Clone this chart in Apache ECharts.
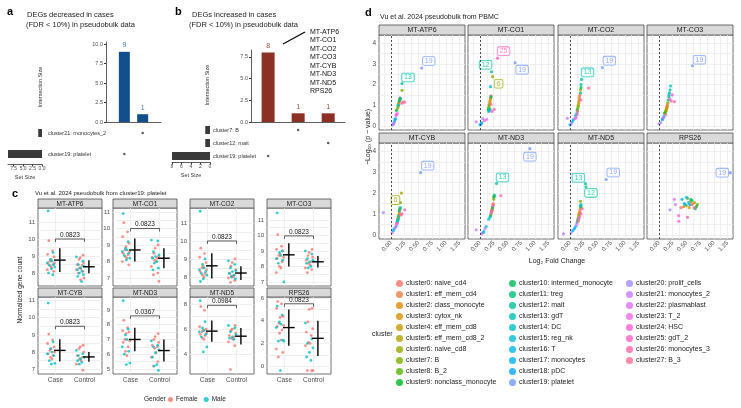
<!DOCTYPE html>
<html>
<head>
<meta charset="utf-8">
<script src="https://cdn.jsdelivr.net/npm/echarts@6/dist/echarts.min.js"></script>
<style>
  html, body { margin: 0; padding: 0; background: #fff; }
  #main { width: 741px; height: 408px; }
</style>
</head>
<body>
<div id="main"></div>
<script>
  // ---------- data: panels a / b (upset) ----------
  const decSets = ['cluster21: monocytes_2', 'cluster19: platelet']
  const decSetSize = [1, 9]
  const decInter = [9, 1]
  const decMembers = [[2], [1]] // intersection ids for each set row
  const incSets = ['cluster7: B', 'cluster12: mait', 'cluster19: platelet']
  const incSetSize = [1, 1, 8]
  const incInter = [8, 1, 1]
  const incMembers = [[2], [3], [1]]
  const incGenes = ['MT-ATP6', 'MT-CO1', 'MT-CO2', 'MT-CO3', 'MT-CYB', 'MT-ND3', 'MT-ND5', 'RPS26']

  // ---------- data: panel c ----------
  const cGenes = ['MT-ATP6', 'MT-CO1', 'MT-CO2', 'MT-CO3', 'MT-CYB', 'MT-ND3', 'MT-ND5', 'RPS26']
  const caseFemale = [
    [9.9, 9.3, 9.1, 8.95, 8.8, 8.7, 8.6, 8.55, 8.5, 8.4, 8.3, 8.2, 8.1],
    [10.35, 9.8, 9.5, 9.1, 8.9, 8.7, 8.6, 8.5, 8.4, 8.3, 8.2, 8.0, 7.8],
    [9.6, 9.3, 9.1, 8.8, 8.6, 8.5, 8.4, 8.3, 8.2, 8.1, 8.0],
    [10.05, 9.3, 9.1, 9.0, 8.8, 8.7, 8.6, 8.5, 8.3, 8.0, 7.9, 7.6],
    [9.05, 8.7, 8.5, 8.3, 8.2, 8.1, 8.0, 7.9, 7.8, 7.7, 7.6],
    [8.3, 7.8, 7.6, 7.5, 7.4, 7.0, 6.9, 6.8, 6.5, 6.2, 5.9],
    [7.8, 7.5, 6.2, 6.0, 5.9, 5.8, 5.7, 5.6, 5.5, 5.3, 5.2],
    [5.7, 5.5, 5.1, 4.4, 4.3, 3.8, 3.6, 3.5, 3.2, 2.9, 2.3, 1.5, 1.2, 0.8],
  ]
  const caseMale = [
    [11.65, 9.2, 8.8, 8.7, 8.6, 8.5, 8.45, 8.35, 8.25, 8.0, 7.9],
    [10.9, 9.2, 8.8, 8.7, 8.6, 8.5, 8.35, 8.2, 8.1],
    [11.65, 9.0, 8.7, 8.5, 8.4, 8.3, 8.2, 8.1, 7.9, 7.75],
    [11.45, 9.0, 8.9, 8.7, 8.5, 8.4, 8.2, 7.0],
    [10.85, 8.6, 8.2, 8.0, 7.9, 7.8, 7.5, 7.35, 7.3],
    [9.63, 7.7, 7.3, 7.0, 6.5, 6.2, 6.0, 5.4, 5.3],
    [8.27, 6.6, 6.1, 5.9, 5.8, 5.6, 5.4, 4.6, 4.2],
    [5.3, 4.5, 3.9, 3.7, 3.4, 2.3, 2.2, 2.2, -0.4],
  ]
  const ctrlFemale = [
    [9.05, 8.9, 8.8, 8.6, 8.5, 8.45, 8.3, 8.25, 8.2, 8.1, 8.0, 7.7, 7.6],
    [9.0, 8.8, 8.5, 8.3, 8.25, 8.2, 8.1, 8.0, 7.7, 7.3, 7.2, 6.8],
    [9.0, 8.8, 8.6, 8.4, 8.2, 8.1, 8.05, 8.0, 7.95, 7.8, 7.7],
    [9.1, 8.9, 8.7, 8.6, 8.4, 8.3, 8.2, 8.1, 7.9, 7.8, 7.6],
    [8.4, 8.3, 8.2, 8.0, 7.8, 7.7, 7.6, 7.5, 7.3, 6.95],
    [7.4, 7.2, 7.0, 6.8, 6.6, 6.5, 6.4, 6.1, 5.8, 5.5, 5.2],
    [6.3, 6.0, 5.9, 5.7, 5.5, 5.4, 5.3, 5.2, 5.0, 4.7, 2.8],
    [5.1, 5.0, 3.9, 3.3, 3.0, 2.7, 2.1, 2.0, 1.8, -0.4, -0.4, -0.4],
  ]
  const ctrlMale = [
    [8.95, 8.7, 8.5, 8.4, 8.3, 8.2, 8.1, 8.0, 7.9, 7.8, 7.5],
    [9.3, 9.25, 8.6, 8.4, 8.3, 8.2, 8.0, 7.9, 7.6, 7.5],
    [8.9, 8.7, 8.5, 8.35, 8.3, 8.2, 8.1, 8.0, 7.9],
    [9.0, 8.8, 8.5, 8.4, 8.3, 8.2, 8.0, 7.9],
    [8.1, 7.9, 7.8, 7.7, 7.6, 7.5, 7.4, 7.3],
    [6.9, 6.6, 6.5, 6.3, 6.1, 5.8, 5.3, 5.2, 4.9],
    [6.3, 6.1, 5.8, 5.6, 5.4, 5.3, 5.2],
    [3.8, 2.4, 2.0, 1.6, 1.2, 0.8, 0.5],
  ]
  const caseMean = [8.76, 8.7, 8.62, 8.75, 8.1, 7.0, 5.85, 3.4]
  const caseSd = [0.7, 0.7, 0.7, 0.75, 0.65, 0.8, 0.85, 1.6]
  const ctrlMean = [8.37, 8.2, 8.22, 8.3, 7.72, 6.25, 5.45, 2.45]
  const ctrlSd = [0.38, 0.6, 0.38, 0.37, 0.28, 0.75, 0.65, 1.55]
  const pLabels = ['0.0823', '0.0823', '0.0823', '0.0823', '0.0823', '0.0367', '0.0984', '0.0823']
  const pBracketY = [10.0, 10.0, 10.0, 9.97, 9.5, 8.6, 7.9, 5.5]
  const cYMin = [7.24, 6.52, 7.5, 6.74, 6.73, 4.66, 2.45, -0.7]
  const cYMax = [11.82, 11.24, 11.83, 11.77, 11.2, 9.88, 8.56, 6.1]
  const cYTicks = [
    [8, 9, 10, 11], [7, 8, 9, 10, 11], [8, 9, 10, 11], [7, 8, 9, 10, 11],
    [7, 8, 9, 10, 11], [5, 6, 7, 8, 9], [4, 6, 8], [0, 2, 4, 6],
  ]

  // ---------- data: panel d ----------
  const clusterNames = ['cluster0: naive_cd4', 'cluster1: eff_mem_cd4', 'cluster2: class_monocyte', 'cluster3: cytox_nk',
    'cluster4: eff_mem_cd8', 'cluster5: eff_mem_cd8_2', 'cluster6: naive_cd8', 'cluster7: B', 'cluster8: B_2',
    'cluster9: nonclass_monocyte', 'cluster10: intermed_monocyte', 'cluster11: treg', 'cluster12: mait', 'cluster13: gdT',
    'cluster14: DC', 'cluster15: reg_nk', 'cluster16: T', 'cluster17: monocytes', 'cluster18: pDC', 'cluster19: platelet',
    'cluster20: prolif_cells', 'cluster21: monocytes_2', 'cluster22: plasmablast', 'cluster23: T_2', 'cluster24: HSC',
    'cluster25: gdT_2', 'cluster26: monocytes_3', 'cluster27: B_3']
  const dGenes = ['MT-ATP6', 'MT-CO1', 'MT-CO2', 'MT-CO3', 'MT-CYB', 'MT-ND3', 'MT-ND5', 'RPS26']
  // [log2 fold change, -log10 p] for cluster0..cluster27
  const dPoints = [
    [[0.16,1.35],[0.17,1.3],[0.15,1.2],[0.14,1.1],[0.14,1.05],[0.12,0.85],[0.16,1.3],[0.2,1.72],[0.13,0.95],[0.1,0.75],[0.15,1.2],[0.16,1.25],[0.17,1.35],[0.2,2.05],[0.13,1.0],[0.08,0.35],[0.06,0.2],[0.04,0.08],[0.07,0.3],[0.56,2.8],[0.03,0.05],[0.05,0.12],[0.09,0.5],[0.11,0.6],[0.1,0.55],[0.2,1.1],[0.25,1.15],[0.22,1.15]],
    [[0.2,1.45],[0.19,1.35],[0.19,1.3],[0.18,1.2],[0.18,1.15],[0.17,1.05],[0.23,2.38],[0.17,1.0],[0.16,0.9],[0.15,0.8],[0.2,1.4],[0.17,0.75],[0.21,2.62],[0.18,0.8],[0.16,0.7],[0.19,1.9],[0.03,0.15],[0.0,0.05],[0.02,0.1],[0.64,3.06],[0.05,0.35],[-0.07,0.2],[0.12,0.32],[0.08,0.25],[0.22,0.7],[0.32,3.28],[0.26,0.8],[0.2,1.05]],
    [[0.18,1.5],[0.17,1.4],[0.17,1.3],[0.16,1.2],[0.16,1.1],[0.15,1.0],[0.19,1.75],[0.15,0.95],[0.14,0.85],[0.13,0.75],[0.2,1.85],[0.19,1.6],[0.2,2.0],[0.21,2.25],[0.12,0.6],[0.1,0.5],[0.06,0.3],[0.0,0.05],[0.04,0.2],[0.59,2.82],[0.02,0.1],[-0.05,0.37],[0.09,0.35],[0.11,0.4],[0.13,0.55],[0.2,1.25],[0.34,1.83],[0.14,0.7]],
    [[0.15,1.0],[0.15,0.95],[0.14,0.9],[0.14,0.85],[0.13,0.8],[0.13,0.75],[0.16,1.1],[0.12,0.7],[0.11,0.65],[0.1,0.6],[0.17,1.25],[0.18,1.4],[0.19,1.6],[0.2,1.75],[0.21,1.93],[0.18,1.5],[0.09,0.45],[0.07,0.37],[0.06,0.3],[0.61,2.91],[0.03,0.15],[0.0,0.1],[0.08,0.4],[0.2,1.3],[0.24,1.5],[0.22,1.2],[0.28,1.17],[0.12,0.55]],
    [[0.16,1.2],[0.15,1.1],[0.15,1.0],[0.14,0.95],[0.13,0.85],[0.13,0.8],[0.19,2.0],[0.17,1.54],[0.12,0.7],[0.11,0.6],[0.16,1.25],[0.15,1.15],[0.17,1.3],[0.14,0.9],[0.13,0.75],[0.12,0.65],[0.09,0.4],[0.06,0.3],[0.04,0.2],[0.54,2.98],[-0.14,1.07],[0.02,0.1],[0.08,0.35],[0.11,0.55],[0.1,0.5],[0.2,1.0],[0.25,1.2],[0.18,0.95]],
    [[0.24,1.5],[0.24,1.45],[0.23,1.35],[0.22,1.25],[0.22,1.2],[0.21,1.1],[0.25,1.7],[0.26,1.85],[0.2,1.0],[0.19,0.9],[0.25,1.8],[0.23,1.3],[0.26,1.9],[0.3,2.46],[0.18,0.85],[0.16,0.75],[0.11,0.4],[0.07,0.15],[0.05,0.1],[0.91,4.13],[0.09,0.3],[-0.07,0.24],[0.03,0.05],[0.2,1.05],[0.24,1.4],[0.22,1.15],[0.38,1.88],[0.21,1.15]],
    [[0.18,1.2],[0.18,1.1],[0.17,1.05],[0.17,1.0],[0.16,0.95],[0.16,0.9],[0.19,1.3],[0.19,1.61],[0.15,0.8],[0.14,0.7],[0.2,1.35],[0.2,1.45],[0.29,2.3],[0.28,2.45],[0.19,1.4],[0.13,0.6],[0.1,0.4],[0.05,0.2],[0.08,0.3],[0.66,2.65],[0.02,0.1],[-0.12,0.05],[0.12,0.5],[0.16,0.75],[0.2,1.0],[0.17,0.85],[0.22,1.25],[0.15,0.65]],
    [[0.62,1.5],[0.6,1.45],[0.58,1.6],[0.45,1.35],[0.55,1.3],[0.65,1.55],[0.5,1.4],[0.52,1.75],[0.7,1.45],[0.68,1.35],[0.66,1.25],[0.6,1.65],[0.58,1.7],[0.54,1.55],[0.48,1.45],[0.5,1.8],[0.42,1.7],[0.46,1.5],[0.56,1.45],[1.3,2.98],[0.2,1.2],[0.3,1.45],[0.28,1.7],[0.36,0.92],[0.36,0.65],[0.52,0.84],[0.64,1.3],[0.4,1.3]],
  ]
  const dLabelled = [[19, 13], [25, 12, 6, 19], [19, 13], [19], [19, 6], [19, 13], [19, 13, 12], [19]]

  // ---------- layout (pixels) ----------
  const FONT = '"Liberation Sans", Arial, sans-serif'
  const GRID_LINE = '#ebebeb'
  const BORDER = '#4d4d4d'
  const AXIS_TXT = '#4d4d4d'
  const jitter = [-0.08, 0.05, -0.12, 0.1, 0.0, -0.04, 0.12, -0.1, 0.07, -0.02, 0.03, -0.13, 0.09, -0.06, 0.13, 0.01, -0.09, 0.06, -0.03, 0.11]
  // label offsets [dx, dy] for the boxed cluster ids in panel d
  const dLabelOffset = {
    '0-19': [7, -7], '0-13': [6, -6],
    '1-25': [6, -7], '1-12': [-6, -7], '1-6': [6, 7], '1-19': [7, 7],
    '2-19': [7, -7], '2-13': [6, -7],
    '3-19': [7, -6],
    '4-19': [7, -7], '4-6': [-6, 7],
    '5-19': [0, 8], '5-13': [6, -6],
    '6-19': [7, -7], '6-13': [-7, -6], '6-12': [5, 6],
    '7-19': [-8, 0],
  }

  // ggplot hue palette
  function hcl2hex(h, c, l) {
    const hr = (h * Math.PI) / 180
    const U = c * Math.cos(hr), V = c * Math.sin(hr)
    const Xn = 95.047, Yn = 100, Zn = 108.883
    const un = (4 * Xn) / (Xn + 15 * Yn + 3 * Zn), vn = (9 * Yn) / (Xn + 15 * Yn + 3 * Zn)
    const Y = l > 8 ? Yn * Math.pow((l + 16) / 116, 3) : (Yn * l) / 903.3
    const u = U / (13 * l) + un, v = V / (13 * l) + vn
    const X = (Y * 9 * u) / (4 * v)
    const Z = (Y * (12 - 3 * u - 20 * v)) / (4 * v)
    const x = X / 100, y = Y / 100, z = Z / 100
    const lin = [
      3.2404542 * x - 1.5371385 * y - 0.4985314 * z,
      -0.969266 * x + 1.8760108 * y + 0.041556 * z,
      0.0556434 * x - 0.2040259 * y + 1.0572252 * z,
    ]
    return '#' + lin.map((t) => {
      let g = t <= 0.0031308 ? 12.92 * t : 1.055 * Math.pow(t, 1 / 2.4) - 0.055
      g = Math.round(Math.max(0, Math.min(1, g)) * 255)
      return g.toString(16).padStart(2, '0')
    }).join('')
  }
  const clusterColors = clusterNames.map((_, i) => hcl2hex(15 + (i * 360) / 28, 100, 65))
  const FEMALE = '#F8766D', MALE = '#00BFC4'

  const grids = [], xAxes = [], yAxes = [], series = [], graphics = []
  function addGrid(g, xa, ya) {
    grids.push(g)
    const gi = grids.length - 1
    xa.gridIndex = gi
    ya.gridIndex = gi
    xAxes.push(xa)
    yAxes.push(ya)
    return gi
  }
  function txt(x, y, s, o) {
    const st = Object.assign({ text: s, fill: '#1a1a1a', font: '7px ' + FONT, align: 'left', verticalAlign: 'middle' }, o || {})
    st.textAlign = st.align
    st.textVerticalAlign = st.verticalAlign
    graphics.push({ type: 'text', x: x, y: y, rotation: st.rot || 0, silent: true, style: st })
  }
  function strip(x, y, w, h, label, fs) {
    graphics.push({ type: 'rect', silent: true, shape: { x: x, y: y, width: w, height: h }, style: { fill: '#d9d9d9', stroke: BORDER, lineWidth: 0.8 } })
    txt(x + w / 2, y + h / 2 + 0.5, label, { font: fs + 'px ' + FONT, align: 'center', fill: '#1a1a1a' })
  }
  const hidden = { show: false }

  // ---------- upset plot builder ----------
  function upset(o) {
    // bars
    const gBar = addGrid(
      { left: o.barLeft, top: o.barTop, width: o.barWidth, height: o.barHeight },
      { type: 'value', min: o.xMin, max: o.xMax, axisLine: { show: true, lineStyle: { color: '#333', width: 0.8 } }, axisTick: hidden, axisLabel: hidden, splitLine: hidden },
      {
        type: 'value', min: 0, max: o.yMax,
        axisLine: { show: true, lineStyle: { color: '#333', width: 0.8 } },
        axisTick: { show: true, length: 2, customValues: o.yTicks, lineStyle: { color: '#333' } },
        axisLabel: { customValues: o.yTicks, fontSize: 5.5, color: AXIS_TXT, fontFamily: FONT, margin: 3, formatter: (v) => v.toFixed(1) },
        splitLine: hidden,
      }
    )
    series.push({
      type: 'bar', xAxisIndex: gBar, yAxisIndex: gBar, barWidth: o.bw,
      itemStyle: { color: o.color },
      label: { show: true, position: 'top', distance: 3, fontSize: 7, color: o.labelColor, fontFamily: FONT },
      data: o.inter.map((v, i) => [i + 1, v]),
    })
    // matrix
    const gMat = addGrid(
      { left: o.barLeft, top: o.matTop, width: o.barWidth, height: o.matHeight },
      { type: 'value', min: o.xMin, max: o.xMax, axisLine: hidden, axisTick: hidden, axisLabel: hidden, splitLine: hidden },
      {
        type: 'category', inverse: true, data: o.sets, axisLine: hidden, axisTick: hidden, splitLine: hidden,
        axisLabel: { align: 'left', margin: o.labelMargin, fontSize: 5.5, color: '#333', fontFamily: FONT },
      }
    )
    const dots = []
    o.members.forEach((ids, r) => ids.forEach((id) => dots.push([id, r])))
    series.push({ type: 'scatter', xAxisIndex: gMat, yAxisIndex: gMat, symbolSize: 2.5, itemStyle: { color: '#333' }, data: dots })
    // set sizes
    const gSet = addGrid(
      { left: o.setLeft, top: o.matTop, width: o.setWidth, height: o.matHeight },
      {
        type: 'value', inverse: true, min: 0, max: o.setMax,
        axisLine: { show: true, lineStyle: { color: '#333', width: 0.8 } },
        axisTick: { show: true, length: 2, customValues: o.setTicks, lineStyle: { color: '#333' } },
        axisLabel: { customValues: o.setTicks, fontSize: 5, color: AXIS_TXT, fontFamily: FONT, margin: 2, formatter: o.setFmt },
        splitLine: hidden,
        name: 'Set Size', nameLocation: 'middle', nameGap: 10, nameTextStyle: { fontSize: 5.5, color: '#333', fontFamily: FONT },
      },
      { type: 'category', inverse: true, data: o.sets, axisLine: hidden, axisTick: hidden, axisLabel: hidden, splitLine: hidden }
    )
    series.push({ type: 'bar', xAxisIndex: gSet, yAxisIndex: gSet, barWidth: 8, itemStyle: { color: '#3a3a3a' }, data: o.setSize })
    txt(o.isLabelX, o.isLabelY, 'Intersection Size', { font: '5.5px ' + FONT, align: 'center', fill: '#333', rot: Math.PI / 2 })
  }

  upset({
    barLeft: 106, barTop: 42, barWidth: 55, barHeight: 80, xMin: 0, xMax: 3, yMax: 10.26,
    yTicks: [0, 2.5, 5, 7.5, 10], bw: 11, color: '#134f8c', labelColor: '#3f72b5', inter: decInter,
    matTop: 122.5, matHeight: 42, sets: decSets, members: decMembers, labelMargin: 58,
    setLeft: 8, setWidth: 34, setMax: 9, setTicks: [0, 2.5, 5, 7.5], setFmt: (v) => v.toFixed(1), setSize: decSetSize,
    isLabelX: 40, isLabelY: 87,
  })
  upset({
    barLeft: 251, barTop: 50, barWidth: 94, barHeight: 72, xMin: 0.43, xMax: 3.56, yMax: 8.3,
    yTicks: [0, 2.5, 5, 7.5], bw: 13, color: '#8c2f24', labelColor: '#a24a3a', inter: incInter,
    matTop: 123.5, matHeight: 39, sets: incSets, members: incMembers, labelMargin: 38,
    setLeft: 172, setWidth: 38, setMax: 8, setTicks: [0, 2, 4, 6, 8], setFmt: (v) => String(v), setSize: incSetSize,
    isLabelX: 207, isLabelY: 85,
  })

  // panel a / b headings
  txt(7, 12, 'a', { font: 'bold 11px ' + FONT, fill: '#000' })
  txt(27, 15, 'DEGs decreased in cases', { font: '7.5px ' + FONT })
  txt(26, 25, '(FDR < 10%) in pseudobulk data', { font: '7.5px ' + FONT })
  txt(175, 12, 'b', { font: 'bold 11px ' + FONT, fill: '#000' })
  txt(192, 15, 'DEGs increased in cases', { font: '7.5px ' + FONT })
  txt(189, 25, '(FDR < 10%) in pseudobulk data', { font: '7.5px ' + FONT })
  incGenes.forEach((g, i) => txt(310, 32 + i * 8.5, g, { font: '7px ' + FONT, fill: '#111' }))
  graphics.push({ type: 'line', silent: true, shape: { x1: 283, y1: 44, x2: 305, y2: 32 }, style: { stroke: '#000', lineWidth: 1.2 } })

  // ---------- panel c ----------
  const cLeft = [38, 113, 190, 267], cWidth = 64
  const cTop = [208, 297], cHeight = [78, 77]
  function crossItem(params, api) {
    const x = api.value(0), m = api.value(1), s = api.value(2)
    const a = api.coord([x, m + s]), b = api.coord([x, m - s])
    const l = api.coord([x - 0.2, m]), r = api.coord([x + 0.2, m])
    return {
      type: 'group', children: [
        { type: 'line', shape: { x1: a[0], y1: a[1], x2: b[0], y2: b[1] }, style: { stroke: '#000', lineWidth: 1.4 } },
        { type: 'line', shape: { x1: l[0], y1: l[1], x2: r[0], y2: r[1] }, style: { stroke: '#000', lineWidth: 1.4 } },
      ],
    }
  }
  cGenes.forEach((gene, k) => {
    const row = Math.floor(k / 4), col = k % 4
    const minor = []
    cYTicks[k].forEach((t, i) => {
      minor.push(t)
      if (i < cYTicks[k].length - 1) minor.push((t + cYTicks[k][i + 1]) / 2)
    })
    const gi = addGrid(
      { left: cLeft[col], top: cTop[row], width: cWidth, height: cHeight[row], show: true, borderColor: BORDER, borderWidth: 0.8, backgroundColor: '#fff' },
      {
        type: 'value', min: 0.4, max: 2.6, axisLine: hidden,
        axisTick: { show: false, customValues: [1, 2] },
        axisLabel: { show: row === 1, customValues: [1, 2], fontSize: 6.5, color: AXIS_TXT, fontFamily: FONT, margin: 3, formatter: (v) => (v === 1 ? 'Case' : 'Control') },
        splitLine: { show: true, lineStyle: { color: GRID_LINE, width: 0.8 } },
      },
      {
        type: 'value', min: cYMin[k], max: cYMax[k], axisLine: hidden,
        axisTick: { show: false, customValues: minor },
        axisLabel: { customValues: cYTicks[k], fontSize: 6, color: AXIS_TXT, fontFamily: FONT, margin: 3 },
        splitLine: { show: true, lineStyle: { color: GRID_LINE, width: 0.8 } },
      }
    )
    strip(cLeft[col], cTop[row] - 9, cWidth, 9, gene, 6.5)
    const pts = (vals, grp, off) => vals.map((v, i) => [grp - 0.15 + jitter[(i + off) % jitter.length], v])
    series.push({ name: 'Female', type: 'scatter', xAxisIndex: gi, yAxisIndex: gi, symbolSize: 2.8, itemStyle: { color: FEMALE }, data: pts(caseFemale[k], 1, 0).concat(pts(ctrlFemale[k], 2, 3)) })
    series.push({ name: 'Male', type: 'scatter', xAxisIndex: gi, yAxisIndex: gi, symbolSize: 2.8, itemStyle: { color: MALE }, data: pts(caseMale[k], 1, 7).concat(pts(ctrlMale[k], 2, 11)) })
    series.push({ type: 'custom', xAxisIndex: gi, yAxisIndex: gi, renderItem: crossItem, data: [[1.15, caseMean[k], caseSd[k]], [2.15, ctrlMean[k], ctrlSd[k]]], z: 5 })
    const label = pLabels[k]
    series.push({
      type: 'custom', xAxisIndex: gi, yAxisIndex: gi, z: 5, data: [[pBracketY[k]]],
      renderItem: (params, api) => {
        const y = api.value(0)
        const a = api.coord([1, y]), b = api.coord([2, y])
        return {
          type: 'group', children: [
            { type: 'polyline', shape: { points: [[a[0], a[1] + 3], [a[0], a[1]], [b[0], b[1]], [b[0], b[1] + 3]] }, style: { stroke: '#333', fill: null, lineWidth: 0.8 } },
            { type: 'text', x: (a[0] + b[0]) / 2, y: a[1] - 0.5, style: { text: label, fill: '#111', font: '6.5px ' + FONT, align: 'center', verticalAlign: 'bottom' } },
          ],
        }
      },
    })
  })
  txt(12, 194, 'c', { font: 'bold 11px ' + FONT, fill: '#000' })
  txt(35, 193, 'Vu et al. 2024 pseudobulk from cluster19: platelet', { font: '6px ' + FONT })
  txt(20, 290, 'Normalized gene count', { font: '6.5px ' + FONT, align: 'center', rot: Math.PI / 2 })
  txt(144, 399, 'Gender', { font: '6.5px ' + FONT })

  // ---------- panel d ----------
  const dLeft = [379, 468, 558, 647], dWidth = 86
  const dTop = [35, 143], dHeight = [95, 96]
  const dXLab = [0, 0.25, 0.5, 0.75, 1, 1.25]
  const dXGrid = [-0.125, 0, 0.125, 0.25, 0.375, 0.5, 0.625, 0.75, 0.875, 1, 1.125, 1.25]
  const dYLab = [0, 1, 2, 3, 4]
  const dYGrid = [0, 0.5, 1, 1.5, 2, 2.5, 3, 3.5, 4]
  let firstD = -1
  dGenes.forEach((gene, k) => {
    const row = Math.floor(k / 4), col = k % 4
    const gi = addGrid(
      { left: dLeft[col], top: dTop[row], width: dWidth, height: dHeight[row], show: true, borderColor: BORDER, borderWidth: 0.8, backgroundColor: '#fff' },
      {
        type: 'value', min: -0.22, max: 1.35, axisLine: hidden,
        axisTick: { show: false, customValues: dXGrid },
        axisLabel: { show: row === 1, customValues: dXLab, rotate: 45, fontSize: 6, color: AXIS_TXT, fontFamily: FONT, margin: 3, formatter: (v) => v.toFixed(2) },
        splitLine: { show: true, lineStyle: { color: GRID_LINE, width: 0.8 } },
      },
      {
        type: 'value', min: -0.2, max: 4.4, axisLine: hidden,
        axisTick: { show: false, customValues: dYGrid },
        axisLabel: { show: col === 0, customValues: dYLab, fontSize: 6.5, color: AXIS_TXT, fontFamily: FONT, margin: 3 },
        splitLine: { show: true, lineStyle: { color: GRID_LINE, width: 0.8 } },
      }
    )
    if (firstD < 0) firstD = gi
    strip(dLeft[col], dTop[row] - 10, dWidth, 10, gene, 7)
    const data = dPoints[k].map((p, i) => {
      const item = { value: p, itemStyle: { color: clusterColors[i] } }
      if (dLabelled[k].includes(i)) {
        const off = dLabelOffset[k + '-' + i] || [6, -6]
        item.label = {
          show: true, position: 'inside', offset: off, formatter: String(i), fontSize: 7, fontFamily: FONT,
          color: clusterColors[i], backgroundColor: '#fff', borderColor: clusterColors[i], borderWidth: 0.8,
          borderRadius: 1.5, padding: [1, 2, 0, 2],
        }
      }
      return item
    })
    series.push({
      type: 'scatter', xAxisIndex: gi, yAxisIndex: gi, symbolSize: 3.2, data: data, z: 3,
      markLine: { silent: true, symbol: 'none', label: hidden, lineStyle: { type: [2, 2], color: '#222', width: 0.8 }, data: [{ xAxis: 0 }] },
    })
  })
  // empty series so the legend can list every cluster colour
  clusterNames.forEach((n, i) => {
    series.push({ name: n, type: 'scatter', xAxisIndex: firstD, yAxisIndex: firstD, data: [], itemStyle: { color: clusterColors[i] } })
  })
  txt(365, 13, 'd', { font: 'bold 11px ' + FONT, fill: '#000' })
  txt(380, 17, 'Vu et al. 2024 pseudobulk from PBMC', { font: '7px ' + FONT })
  txt(368, 137, '\u2212Log\u2081\u2080 (p \u2212 value)', { font: '7px ' + FONT, align: 'center', rot: Math.PI / 2 })
  txt(557, 261, 'Log\u2082 Fold Change', { font: '7px ' + FONT, align: 'center' })
  txt(372, 334, 'cluster', { font: '7px ' + FONT })

  const legendBase = {
    orient: 'vertical', icon: 'circle', itemWidth: 7, itemHeight: 7, itemGap: 4, padding: 0,
    selectedMode: false, textStyle: { fontSize: 7, color: '#1a1a1a', fontFamily: FONT, padding: [0, 0, 0, -2] },
  }
  const legends = [
    Object.assign({}, legendBase, { left: 396, top: 280, data: clusterNames.slice(0, 10) }),
    Object.assign({}, legendBase, { left: 509, top: 280, data: clusterNames.slice(10, 20) }),
    Object.assign({}, legendBase, { left: 626, top: 280, data: clusterNames.slice(20) }),
    {
      orient: 'horizontal', icon: 'circle', itemWidth: 5, itemHeight: 5, itemGap: 6, padding: 0, left: 168, top: 396,
      selectedMode: false, textStyle: { fontSize: 6.5, color: '#1a1a1a', fontFamily: FONT, padding: [0, 0, 0, -2] },
      data: ['Female', 'Male'],
    },
  ]

  const chart = echarts.init(document.getElementById('main'))
  chart.setOption({
    animation: false,
    backgroundColor: '#fff',
    textStyle: { fontFamily: FONT },
    grid: grids,
    xAxis: xAxes,
    yAxis: yAxes,
    legend: legends,
    series: series,
    graphic: graphics,
  })
</script>
</body>
</html>
